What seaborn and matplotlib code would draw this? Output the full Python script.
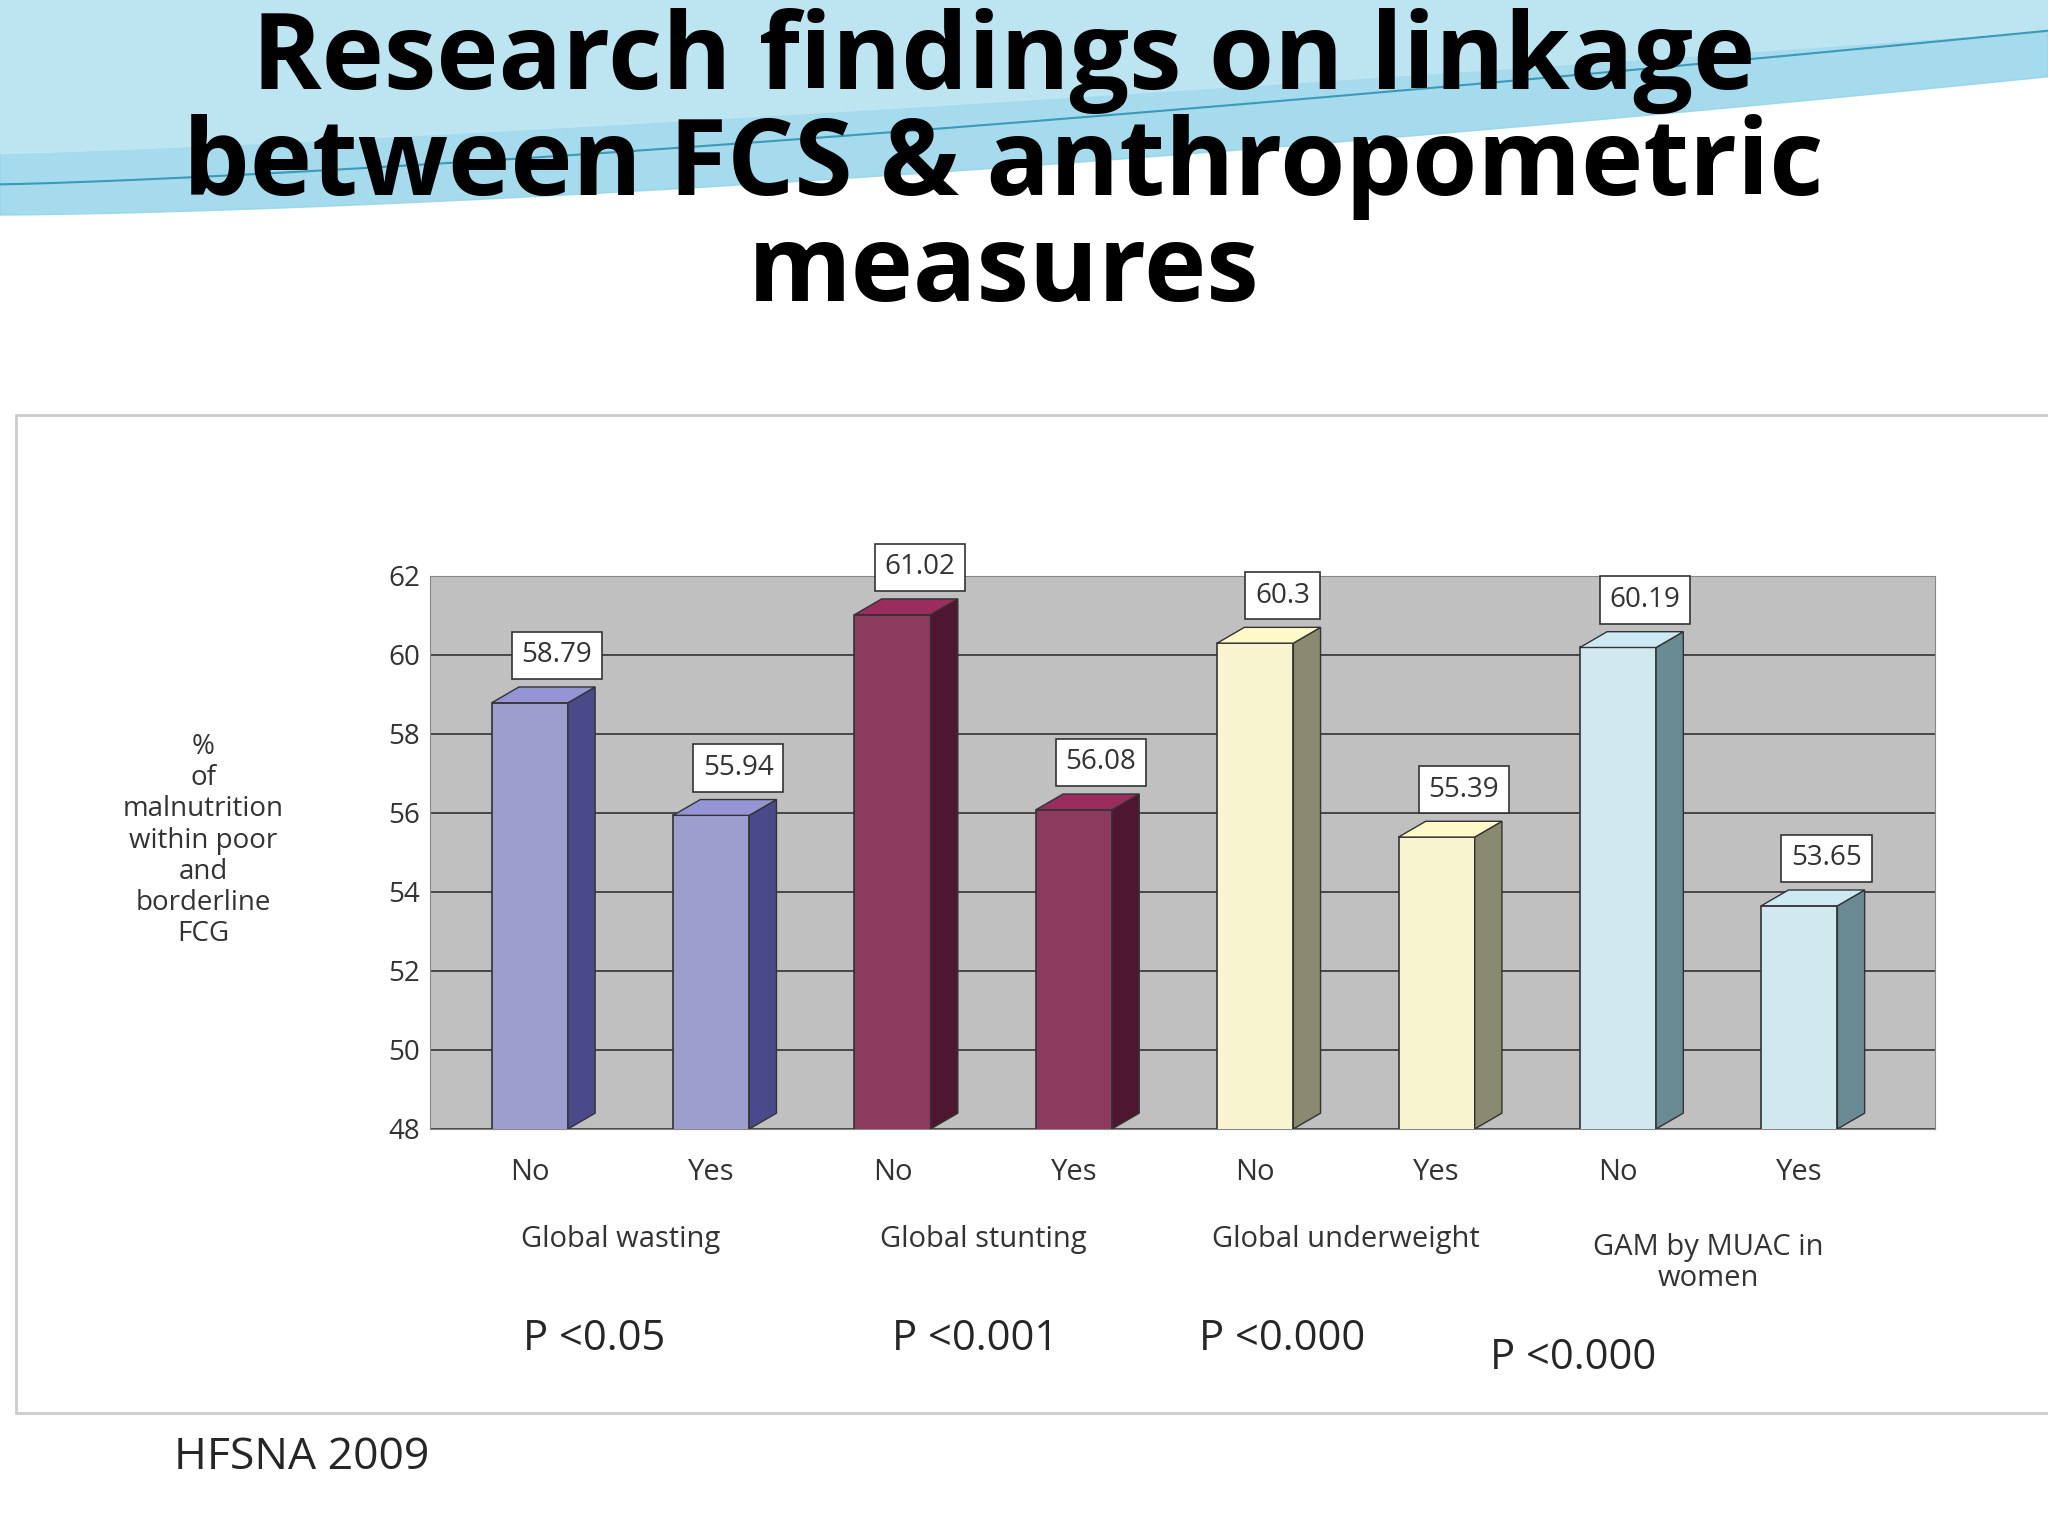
import numpy as np
import pandas as pd
import matplotlib.pyplot as plt
import seaborn as sns
from matplotlib.patches import Polygon, Rectangle

groups = ['Global wasting', 'Global stunting', 'Global underweight', 'GAM by MUAC in\nwomen']
answers = ['No', 'Yes']
values = [58.79, 55.94, 61.02, 56.08, 60.3, 55.39, 60.19, 53.65]
value_labels = ['58.79', '55.94', '61.02', '56.08', '60.3', '55.39', '60.19', '53.65']
pvalues = ['P <0.05', 'P <0.001', 'P <0.000', 'P <0.000']
front_colors = ['#9595d6', '#9b2c5e', '#fffac8', '#cdeaf4']
side_colors = ['#4a4a8a', '#4e1630', '#8a8a70', '#6a8a94']

data = pd.DataFrame({
    'pos': range(len(values)),
    'value': values,
    'group': [g for g in groups for _ in answers],
})

sns.set_style('white')
plt.rcParams['font.family'] = ['Open Sans', 'DejaVu Sans']

fig = plt.figure(figsize=(20.48, 15.36), dpi=100)

# decorative wave at the top
bg = fig.add_axes([0, 0, 1, 1], zorder=-5)
bg.set_xlim(0, 1); bg.set_ylim(0, 1); bg.axis('off')
xs = np.linspace(0, 1, 200)
top = np.ones_like(xs)
low = 0.86 + 0.09 * xs ** 1.5
bg.fill_between(xs, low, top, color='#8fd3e8', alpha=0.8)
bg.fill_between(xs, 0.90 + 0.08 * xs ** 1.2, top, color='#bfe7f2', alpha=0.9)
bg.plot(xs, 0.88 + 0.1 * xs ** 1.3, color='#3a9ab8', lw=1.5)
bg.add_patch(Rectangle((0.008, 0.08), 0.995, 0.65, fill=True, facecolor='white',
                       edgecolor='#cccccc', lw=2))

fig.text(0.49, 0.995, 'Research findings on linkage\nbetween FCS & anthropometric\nmeasures',
         ha='center', va='top', fontsize=76, fontweight='bold', linespacing=1.0,
         color='black')

ax = fig.add_axes([0.21, 0.265, 0.735, 0.36])
ax.set_facecolor('#c0c0c0')
sns.barplot(data=data, x='pos', y='value', hue='group', palette=front_colors,
            dodge=False, width=0.42, edgecolor='#333333', linewidth=1.2,
            legend=False, ax=ax, zorder=3)
ax.set_ylim(48, 62)
ax.set_xlim(-0.55, 7.75)
ax.set_yticks(range(48, 63, 2))
ax.tick_params(axis='y', labelsize=20, colors='#333333')
ax.set_xticks([])
ax.set_xlabel('')
ax.set_ylabel('')
ax.yaxis.grid(True, color='#333333', lw=1.2, zorder=0)
ax.set_axisbelow(True)
for s in ax.spines.values():
    s.set_color('#888888')

# side faces and value boxes
for i, v in enumerate(values):
    x1 = i + 0.21
    ax.add_patch(Polygon([(x1, 48), (x1 + 0.15, 48.4), (x1 + 0.15, v + 0.4), (x1, v)],
                         closed=True, facecolor=side_colors[i // 2], edgecolor='#333333',
                         lw=1, zorder=3))
    ax.add_patch(Polygon([(i - 0.21, v), (x1, v), (x1 + 0.15, v + 0.4), (i - 0.06, v + 0.4)],
                         closed=True, facecolor=front_colors[i // 2], edgecolor='#333333',
                         lw=1, zorder=3))
    ax.text(i + 0.15, v + 1.2, value_labels[i], ha='center', va='center', fontsize=20,
            color='#333333', zorder=5,
            bbox=dict(boxstyle='square,pad=0.35', fc='white', ec='#333333', lw=1.2))

ax.text(-1.8, 55.3, '%\nof\nmalnutrition\nwithin poor\nand\nborderline\nFCG', ha='center',
        va='center', fontsize=20, color='#333333', linespacing=1.15, clip_on=False)

# category labels below the axis
for i in range(len(values)):
    ax.text(i + 0.0, 46.9, answers[i % 2], ha='center', va='center', fontsize=21,
            color='#333333', clip_on=False)
for g, name in enumerate(groups):
    ax.text(2 * g + 0.5, 45.2 if '\n' not in name else 44.6, name, ha='center', va='center',
            fontsize=21, color='#333333', clip_on=False, linespacing=1.1)

pxs = [0.29, 0.476, 0.626, 0.768]
pys = [0.128, 0.128, 0.128, 0.116]
for p, px, py in zip(pxs and pvalues, pxs, pys):
    fig.text(px, py, p, ha='center', va='center', fontsize=30)

fig.text(0.085, 0.051, 'HFSNA 2009', fontsize=32, va='center')

fig.savefig('out.png', dpi=100)
